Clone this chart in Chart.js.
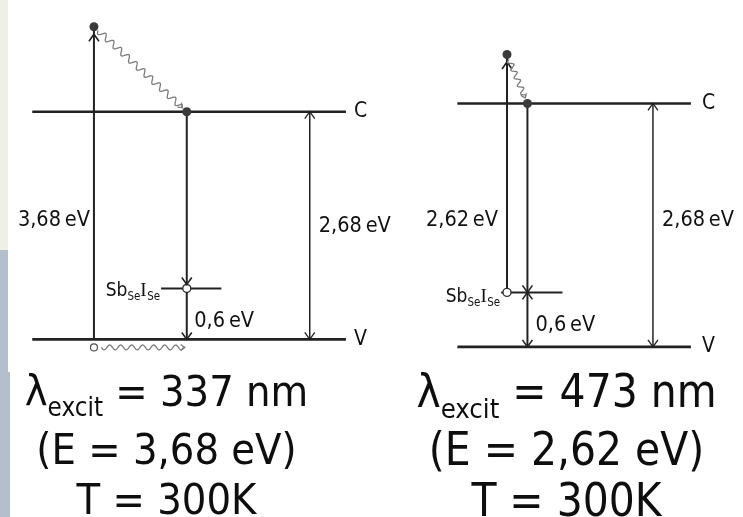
<!DOCTYPE html>
<html>
<head>
<meta charset="utf-8">
<script src="https://cdn.jsdelivr.net/npm/chart.js@4.4.1/dist/chart.umd.min.js"></script>
<style>
  html, body { margin: 0; padding: 0; background: #fff; }
  body { width: 743px; height: 517px; position: relative; overflow: hidden;
         font-family: "DejaVu Sans Condensed", "DejaVu Sans", sans-serif; color: #0e0e0e; }
  .strip { position: absolute; left: 0; }
  canvas { position: absolute; top: 0; }
  .cap { position: absolute; white-space: nowrap; text-align: center; width: 420px; }
  .cap .sub { vertical-align: -10px; }
</style>
</head>
<body>
<div class="strip" style="top:0;width:8px;height:250px;background:#edf0e2"></div>
<div class="strip" style="top:250px;width:8px;height:122px;background:#b3bfcc"></div>
<div class="strip" style="top:372px;width:10px;height:145px;background:#b3bfcc"></div>
<canvas id="left" width="400" height="372" style="left:0"></canvas>
<canvas id="right" width="400" height="372" style="left:343px"></canvas>
<div id="captions"></div>

<script>
// Energies in eV, measured from the top of the valence band (V)
const bandNames = ['V', 'C'];
const bandEdges = [0, 2.68];            // V, C
const defectLevel = 0.6;                // Sb_Se I_Se level above V
const wavelengthsNm = [337, 473];       // excitation wavelength per panel
const excitationEV = [3.68, 2.62];      // photon energy per panel
const excitationFrom = [0, 0.6];        // start level of the absorption arrow
const temperaturesK = [300, 300];

// Where things sit inside each panel (x in panel units 0..100)
const panelLayout = [
  { canvas: 'left', yMin: -0.32, yMax: 3.931,
    bandX: [6.9, 87.5], pumpX: 22.75, decayX: 46.6, defectX: [40, 55.5], gapX: 78.2,
    holeAt: 'decay', emissionHeads: 'end', bottomWave: true,
    bandLabelDx: 8, pumpLabel: { y: 1.406, dx: -4 }, gapLabel: { y: 1.326, dx: 9 },
    defLabel: { y: 0.217, dx: 7.5 }, sbLabel: { dx: -1, dy: 8 },
    wave: { amp: 3, period: 10.5 } },
  { canvas: 'right', yMin: -0.217, yMax: 3.760,
    bandX: [28, 88], pumpX: 40.75, decayX: 46, defectX: [39.25, 55], gapX: 78.25,
    holeAt: 'pump', emissionHeads: 'both', bottomWave: false,
    bandLabelDx: 11, pumpLabel: { y: 1.397, dx: -9 }, gapLabel: { y: 1.397, dx: 9 },
    defLabel: { y: 0.232, dx: 8 }, sbLabel: { dx: -1, dy: 10 },
    wave: { amp: 2.6, period: 8.5 } }
];

const INK = '#222';
const WAVE = '#7c7c7c';
const LABEL_FONT = '"DejaVu Sans Condensed", "DejaVu Sans", sans-serif';

const fmtEV = v => (v < 1 ? v.toFixed(1) : v.toFixed(2)).replace('.', ',') + '\u2009eV';

function line(points, width, extra) {
  return Object.assign({
    data: points, showLine: true, borderColor: INK, borderWidth: width,
    pointRadius: 0, fill: false, tension: 0
  }, extra || {});
}

function datasetsFor(i) {
  const L = panelLayout[i];
  const V = bandEdges[0], C = bandEdges[1];
  const from = excitationFrom[i];
  const top = from + excitationEV[i];
  const holeX = L.holeAt === 'pump' ? L.pumpX : L.decayX;
  const sets = [
    { label: 'electrons', data: [{ x: L.pumpX, y: top }, { x: L.decayX, y: C }],
      showLine: false, pointRadius: 4.5, pointBackgroundColor: '#3a3a3a', pointBorderWidth: 0 },
    { label: 'trapped hole', data: [{ x: holeX, y: defectLevel }],
      showLine: false, pointRadius: 4, pointBackgroundColor: '#fff',
      pointBorderColor: '#333', pointBorderWidth: 1.4 },
    line([{ x: L.bandX[0], y: C }, { x: L.bandX[1], y: C }], 2.6, { label: bandNames[1] }),
    line([{ x: L.bandX[0], y: V }, { x: L.bandX[1], y: V }], 2.6, { label: bandNames[0] }),
    line([{ x: L.defectX[0], y: defectLevel }, { x: L.defectX[1], y: defectLevel }], 2, { label: 'SbSe ISe' }),
    line([{ x: L.pumpX, y: from }, { x: L.pumpX, y: top }], 2,
         { label: 'absorption', heads: { end: 7.5 } }),
    line([{ x: L.decayX, y: C }, { x: L.decayX, y: defectLevel }], 2,
         { label: 'capture', heads: { end: L.holeAt === 'decay' ? 4 : 0 } }),
    line([{ x: L.decayX, y: defectLevel }, { x: L.decayX, y: V }], 2,
         { label: 'emission', heads: L.emissionHeads === 'both' ? { start: 0, end: 0 } : { end: 0 } }),
    line([{ x: L.gapX, y: V }, { x: L.gapX, y: C }], 1.5,
         { label: 'gap', heads: { start: 0, end: 0 } }),
    { label: 'relaxation', data: [{ x: L.pumpX, y: top }, { x: L.decayX, y: C }],
      showLine: false, pointRadius: 0,
      wave: { amp: L.wave.amp, period: L.wave.period, trimStart: 5.5, trimEnd: 6 } }
  ];
  if (L.bottomWave) {
    sets.push({ label: 'hole drift', data: [{ x: L.pumpX, y: V }, { x: L.decayX, y: V }],
      showLine: false, pointRadius: 0,
      wave: { amp: 2.4, period: 11, trimStart: 4, trimEnd: 2, dy: 8, hole: 3.5 } });
  }
  return sets;
}

function chevron(ctx, tip, from, len, half) {
  const dx = tip.x - from.x, dy = tip.y - from.y;
  const d = Math.hypot(dx, dy) || 1;
  const ux = dx / d, uy = dy / d;
  ctx.beginPath();
  ctx.moveTo(tip.x - ux * len - uy * half, tip.y - uy * len + ux * half);
  ctx.lineTo(tip.x, tip.y);
  ctx.lineTo(tip.x - ux * len + uy * half, tip.y - uy * len - ux * half);
  ctx.stroke();
}

function moveToward(p, q, dist) {
  const dx = q.x - p.x, dy = q.y - p.y, d = Math.hypot(dx, dy) || 1;
  return { x: p.x + dx / d * dist, y: p.y + dy / d * dist };
}

function drawHeads(ctx, pts, ds) {
  const a = pts[0], b = pts[pts.length - 1];
  ctx.save();
  ctx.strokeStyle = INK;
  ctx.lineWidth = Math.max(1.3, ds.borderWidth * 0.8);
  ctx.lineJoin = 'miter';
  if (ds.heads.end !== undefined) chevron(ctx, moveToward(b, a, ds.heads.end), a, 7, 5);
  if (ds.heads.start !== undefined) chevron(ctx, moveToward(a, b, ds.heads.start), b, 7, 5);
  ctx.restore();
}

function drawWave(ctx, pts, w) {
  const dy = w.dy || 0;
  const a = { x: pts[0].x, y: pts[0].y + dy };
  const b = { x: pts[1].x, y: pts[1].y + dy };
  const dx = b.x - a.x, ddy = b.y - a.y, L = Math.hypot(dx, ddy);
  const ux = dx / L, uy = ddy / L, nx = -uy, ny = ux;
  const s0 = w.trimStart, s1 = L - w.trimEnd;
  ctx.save();
  if (w.hole) {
    ctx.beginPath();
    ctx.arc(a.x, a.y, w.hole, 0, Math.PI * 2);
    ctx.fillStyle = '#fff';
    ctx.fill();
    ctx.strokeStyle = '#555';
    ctx.lineWidth = 1.2;
    ctx.stroke();
  }
  ctx.strokeStyle = WAVE;
  ctx.lineWidth = 1.3;
  ctx.beginPath();
  const start = s0 + (w.hole || 0);
  for (let s = start; s <= s1; s += 0.4) {
    const env = Math.min(1, (s1 - s) / 3);
    const k = Math.sin(2 * Math.PI * (s - start) / w.period) * w.amp * env;
    const x = a.x + ux * s + nx * k, y = a.y + uy * s + ny * k;
    if (s === start) ctx.moveTo(x, y); else ctx.lineTo(x, y);
  }
  ctx.stroke();
  const tip = { x: a.x + ux * s1, y: a.y + uy * s1 };
  chevron(ctx, tip, a, 4, 3);
  ctx.restore();
}

function drawRich(ctx, parts, x, y, align) {
  let total = 0;
  parts.forEach(p => { ctx.font = p.font; total += ctx.measureText(p.t).width + (p.gap || 0); });
  let cx = align === 'right' ? x - total : x;
  parts.forEach(p => {
    ctx.font = p.font;
    ctx.fillText(p.t, cx, y + (p.dy || 0));
    cx += ctx.measureText(p.t).width + (p.gap || 0);
  });
}

function labelsFor(i) {
  const L = panelLayout[i];
  const f = s => s + 'px ' + LABEL_FONT;
  return [
    { text: bandNames[1], x: L.bandX[1], y: bandEdges[1], dx: L.bandLabelDx, align: 'left', font: f(21) },
    { text: bandNames[0], x: L.bandX[1], y: bandEdges[0], dx: L.bandLabelDx, align: 'left', font: f(21) },
    { text: fmtEV(excitationEV[i]), x: L.pumpX, y: L.pumpLabel.y, dx: L.pumpLabel.dx, align: 'right', font: f(21.5) },
    { text: fmtEV(bandEdges[1] - bandEdges[0]), x: L.gapX, y: L.gapLabel.y, dx: L.gapLabel.dx, align: 'left', font: f(21.5) },
    { text: fmtEV(defectLevel), x: L.decayX, y: L.defLabel.y, dx: L.defLabel.dx, align: 'left', font: f(21.5) }
  ];
}

const diagramPlugin = {
  id: 'bandDiagram',
  afterDatasetsDraw(chart) {
    const ctx = chart.ctx;
    chart.data.datasets.forEach((ds, i) => {
      const pts = chart.getDatasetMeta(i).data.map(p => ({ x: p.x, y: p.y }));
      if (ds.heads) drawHeads(ctx, pts, ds);
      if (ds.wave) drawWave(ctx, pts, ds.wave);
    });
  },
  afterDraw(chart) {
    const i = chart.options.plugins.bandDiagram.panel;
    const L = panelLayout[i];
    const xs = chart.scales.x, ys = chart.scales.y;
    const ctx = chart.ctx;
    ctx.save();
    ctx.fillStyle = '#111';
    ctx.textBaseline = 'middle';
    labelsFor(i).forEach(l => {
      ctx.font = l.font;
      ctx.textAlign = l.align;
      ctx.fillText(l.text, xs.getPixelForValue(l.x) + l.dx, ys.getPixelForValue(l.y));
    });
    // defect label with subscripts
    ctx.textAlign = 'left';
    ctx.textBaseline = 'alphabetic';
    const main = '19px ' + LABEL_FONT, sub = '11.5px ' + LABEL_FONT;
    drawRich(ctx, [
      { t: 'Sb', font: main },
      { t: 'Se', font: sub, dy: 4 },
      { t: 'I', font: '19px "Liberation Serif", "DejaVu Serif", serif', gap: 0.5 },
      { t: 'Se', font: sub, dy: 4 }
    ], xs.getPixelForValue(L.defectX[0]) + L.sbLabel.dx, ys.getPixelForValue(defectLevel) + L.sbLabel.dy, 'right');
    ctx.restore();
  }
};

panelLayout.forEach((L, i) => {
  new Chart(document.getElementById(L.canvas), {
    type: 'scatter',
    data: { datasets: datasetsFor(i) },
    options: {
      responsive: false, animation: false, events: [],
      layout: { padding: 0 },
      plugins: { legend: { display: false }, tooltip: { enabled: false }, bandDiagram: { panel: i } },
      scales: {
        x: { type: 'linear', min: 0, max: 100, display: false },
        y: { type: 'linear', min: L.yMin, max: L.yMax, display: false }
      }
    },
    plugins: [diagramPlugin]
  });
});

// Excitation conditions under each diagram
const captionLayout = [
  { cx: 166.5, size: 43, baselines: [407, 465, 515] },
  { cx: 566.5, size: 45.5, baselines: [408, 466, 517] }
];
const capHost = document.getElementById('captions');
captionLayout.forEach((c, i) => {
  const lines = [
    '\u03bb<span class="sub">excit</span> = ' + wavelengthsNm[i] + ' nm',
    '(E = ' + excitationEV[i].toFixed(2).replace('.', ',') + ' eV)',
    'T = ' + temperaturesK[i] + 'K'
  ];
  lines.forEach((html, k) => {
    const d = document.createElement('div');
    d.className = 'cap';
    d.style.fontSize = c.size + 'px';
    d.style.lineHeight = (c.size * 1.2) + 'px';
    d.style.left = (c.cx - 210) + 'px';
    d.style.top = (c.baselines[k] - 0.946 * c.size) + 'px';
    d.innerHTML = html;
    const s = d.querySelector('.sub');
    if (s) { s.style.fontSize = (c.size * 0.6) + 'px'; s.style.verticalAlign = (-c.size * 0.235) + 'px'; }
    capHost.appendChild(d);
  });
});
</script>
</body>
</html>
